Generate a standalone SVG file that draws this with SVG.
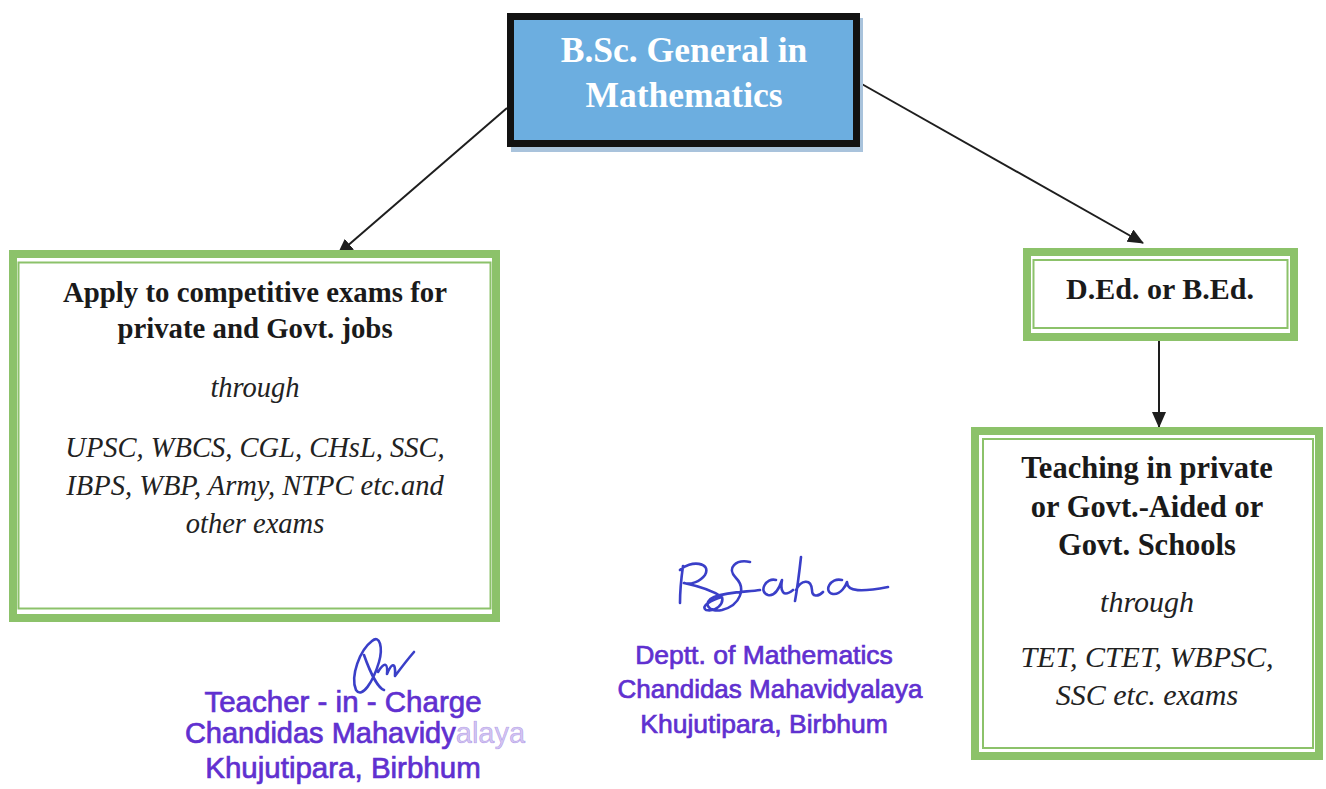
<svg xmlns="http://www.w3.org/2000/svg" width="1326" height="789" viewBox="0 0 1326 789">
<defs>
<style>
.gbox{fill:#ffffff;stroke:#8cc26a;stroke-width:8}
.gin{fill:none;stroke:#8cc26a;stroke-width:2}
.b{font-family:"Liberation Serif","Times New Roman",serif;font-weight:bold;fill:#1a1a1a;text-anchor:middle}
.i{font-family:"Liberation Serif","Times New Roman",serif;font-style:italic;fill:#222222;text-anchor:middle}
.w{font-family:"Liberation Serif","Times New Roman",serif;font-weight:bold;fill:#ffffff;text-anchor:middle;font-size:35.5px}
.stamp{font-family:"Liberation Sans",Arial,sans-serif;fill:#6030d0;stroke:#6030d0;stroke-width:0.7;text-anchor:middle}
.conn{stroke:#1e1e1e;stroke-width:2;fill:none}
.sig{fill:none;stroke:#3a3fc8;stroke-width:2.6;stroke-linecap:round;stroke-linejoin:round}
</style>
<marker id="ah" markerUnits="userSpaceOnUse" markerWidth="16" markerHeight="14" refX="15" refY="7" orient="auto">
<path d="M0,0 L16,7 L0,14 z" fill="#1e1e1e"/>
</marker>
</defs>
<rect width="1326" height="789" fill="#ffffff"/>

<g id="connectors">
<path class="conn" d="M507,108 L338,254" marker-end="url(#ah)"/>
<path class="conn" d="M860,83 L1143,243" marker-end="url(#ah)"/>
<path class="conn" d="M1159,325 L1159,427" marker-end="url(#ah)"/>
</g>

<g id="node-bsc">
<rect x="511" y="18" width="352" height="134" fill="#a9c3dc"/>
<rect x="510.5" y="16.5" width="346" height="127" fill="#6caee0" stroke="#121212" stroke-width="7"/>
<text class="w" x="684" y="62">B.Sc. General in</text>
<text class="w" x="684" y="107">Mathematics</text>
</g>

<g id="node-competitive">
<rect class="gbox" x="13" y="254" width="483" height="364"/>
<rect class="gin" x="18.5" y="262.5" width="472" height="346"/>
<text class="b" x="255" y="302" font-size="28.8">Apply to competitive exams for</text>
<text class="b" x="255" y="338" font-size="28.8">private and Govt. jobs</text>
<text class="i" x="255" y="397" font-size="28.5">through</text>
<text class="i" x="255" y="457" font-size="28.5">UPSC, WBCS, CGL, CHsL, SSC,</text>
<text class="i" x="255" y="495" font-size="28.5">IBPS, WBP, Army, NTPC etc.and</text>
<text class="i" x="255" y="533" font-size="28.5">other exams</text>
</g>

<g id="node-ded">
<rect class="gbox" x="1027" y="252" width="267" height="85"/>
<rect class="gin" x="1033.5" y="260" width="254" height="68"/>
<text class="b" x="1160" y="299" font-size="30">D.Ed. or B.Ed.</text>
</g>

<g id="node-teaching">
<rect class="gbox" x="975" y="431" width="344" height="325"/>
<rect class="gin" x="983" y="439" width="330" height="309"/>
<text class="b" x="1147" y="478" font-size="30.5">Teaching in private</text>
<text class="b" x="1147" y="517" font-size="30.5">or Govt.-Aided or</text>
<text class="b" x="1147" y="555" font-size="30.5">Govt. Schools</text>
<text class="i" x="1147" y="612" font-size="30">through</text>
<text class="i" x="1147" y="667" font-size="30">TET, CTET, WBPSC,</text>
<text class="i" x="1147" y="705" font-size="30">SSC etc. exams</text>
</g>

<g id="stamp-teacher">
<path class="sig" d="M372,641 C360,650 350,676 356,690 C362,699 373,682 379,662 C383,648 380,634 372,641 M364,655 C370,672 378,688 384,690 M378,672 C384,662 388,662 387,674 C391,664 396,660 395,676 C401,668 407,660 414,652"/>
<text class="stamp" x="343" y="712" font-size="29.5">Teacher - in - Charge</text>
<text class="stamp" x="355" y="743" font-size="29">Chandidas Mahavidy<tspan fill-opacity="0.3" stroke-opacity="0.3">alaya</tspan></text>
<text class="stamp" x="343" y="778" font-size="29.5">Khujutipara, Birbhum</text>
</g>

<g id="stamp-dept">
<path class="sig" d="M683,566 C681,580 680,592 680,603 M680,570 C690,560 712,562 705,575 C700,582 690,585 684,583 C698,586 712,590 722,597 C712,600 700,606 706,610 C716,612 724,604 722,597 M750,562 C736,559 726,568 736,578 C746,588 741,605 722,610 C708,613 702,602 714,597 C730,591 748,592 760,590 M776,580 C766,577 758,592 768,595 C776,597 780,586 782,580 C780,591 783,598 793,590 M801,557 C799,575 797,590 795,601 M796,590 C801,580 811,578 812,590 C812,597 818,597 823,592 M842,580 C830,577 823,592 833,594 C841,595 846,585 847,582 C847,592 862,592 888,587"/>
<text class="stamp" x="764" y="664" font-size="26.5">Deptt. of Mathematics</text>
<text class="stamp" x="770" y="698" font-size="26">Chandidas Mahavidyalaya</text>
<text class="stamp" x="764" y="733" font-size="26.5">Khujutipara, Birbhum</text>
</g>
</svg>
